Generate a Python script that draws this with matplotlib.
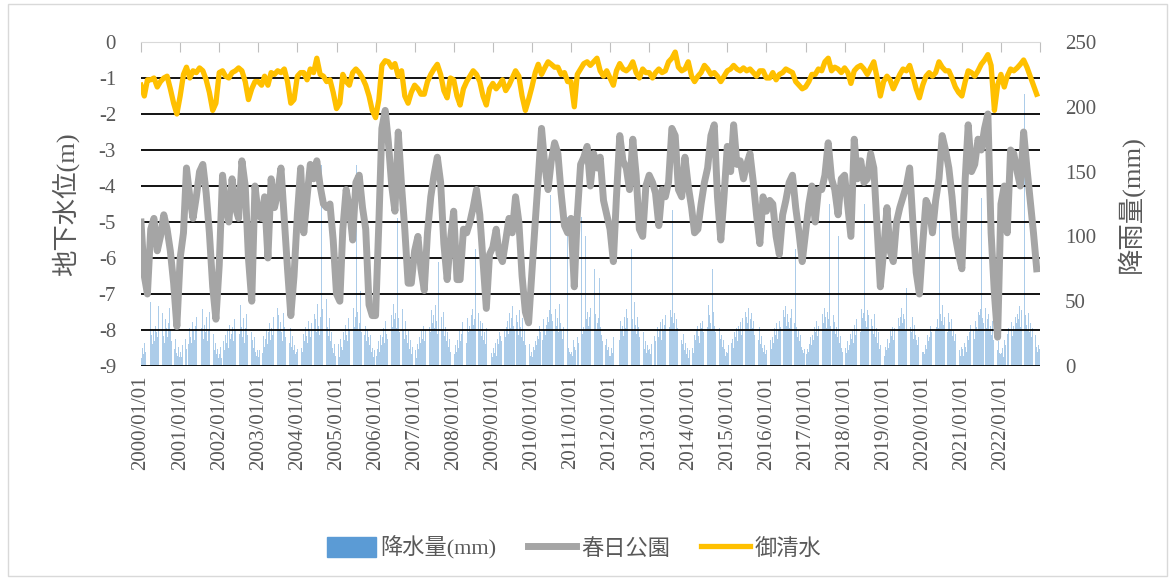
import numpy as np
import pandas as pd
import matplotlib
matplotlib.use("Agg")
import matplotlib.pyplot as plt
from matplotlib.patches import Rectangle, Patch

plt.rcParams['font.family'] = ['Liberation Serif', 'Noto Sans CJK JP']
plt.rcParams['axes.unicode_minus'] = False

# 月初の地下水位 (m) 2000/01 - 2022/12
kasuga = [
    -5.0, -6.5, -7.0, -5.2, -4.9, -5.8, -5.4, -4.8, -5.2, -5.8, -6.7, -7.9,
    -6.0, -5.3, -3.5, -4.3, -4.9, -4.3, -3.6, -3.4, -4.2, -5.3, -6.8, -7.7,
    -6.2, -3.7, -4.5, -5.0, -3.8, -4.6, -4.9, -3.3, -4.0, -6.0, -7.2, -4.0,
    -4.8, -4.9, -4.3, -6.0, -3.8, -4.6, -4.2, -3.5, -4.9, -6.3, -7.6, -6.5,
    -4.8, -3.5, -5.3, -4.3, -3.4, -3.8, -3.3, -4.0, -4.5, -4.6, -4.5, -5.5,
    -7.0, -7.2, -5.2, -4.1, -4.6, -5.5, -3.9, -3.7, -4.6, -5.2, -7.3, -7.6,
    -7.6, -5.0, -2.4, -1.9, -2.8, -4.0, -4.7, -2.5, -4.0, -5.2, -6.7, -6.7,
    -5.8, -5.4, -6.3, -6.9, -5.3, -4.3, -3.7, -3.2, -3.9, -5.6, -6.6, -5.5,
    -4.7, -6.6, -6.6, -5.2, -5.3, -5.0, -4.6, -4.1, -4.8, -6.1, -7.4, -5.9,
    -5.7, -5.2, -5.9, -6.1, -5.5, -4.9, -5.3, -4.3, -5.0, -6.5, -7.5, -7.8,
    -6.4, -5.0, -3.8, -2.4, -3.4, -4.1, -3.3, -2.8, -3.1, -4.2, -5.1, -5.3,
    -4.9, -6.8, -4.8, -3.4, -3.2, -2.9, -4.0, -3.1, -3.5, -3.2, -4.4, -4.8,
    -5.2, -6.1, -4.3, -2.6, -3.3, -3.5, -4.1, -2.7, -3.7, -5.2, -5.4, -4.0,
    -3.7, -3.9, -4.2, -5.1, -4.1, -4.3, -3.9, -2.4, -2.6, -4.1, -4.3, -3.2,
    -4.0, -4.6, -5.3, -5.2, -4.5, -3.9, -3.5, -2.6, -2.3, -4.3, -5.5, -4.3,
    -2.9, -3.6, -2.3, -3.4, -3.3, -3.8, -3.4, -3.1, -3.9, -4.8, -5.6, -4.3,
    -4.7, -4.4, -4.5, -5.4, -5.9, -4.8, -4.4, -3.9, -3.7, -4.6, -5.3, -6.1,
    -5.3, -4.5, -4.0, -5.0, -4.1, -4.1, -3.7, -2.8, -3.8, -4.1, -4.8, -3.8,
    -3.7, -4.6, -5.4, -2.7, -3.8, -3.3, -3.9, -3.8, -3.1, -3.5, -5.2, -6.8,
    -5.8, -4.6, -5.8, -6.1, -5.0, -4.6, -4.3, -4.0, -3.5, -5.0, -6.4, -7.0,
    -5.6, -4.4, -4.6, -5.3, -4.4, -3.8, -2.6, -3.0, -3.5, -4.3, -5.4, -5.9,
    -6.3, -3.8, -2.3, -3.6, -3.4, -2.7, -3.0, -2.4, -2.0, -5.3, -7.0, -8.2,
    -4.5, -4.0, -5.3, -3.0, -3.1, -3.6, -4.0, -2.5, -3.5, -4.4, -5.3, -6.3,
]

oshimizu = [
    -1.2, -1.5, -1.05, -1.05, -1.0, -1.25, -1.1, -1.0, -0.95, -1.3, -1.7, -2.0,
    -1.5, -0.9, -0.7, -1.0, -0.8, -0.85, -0.72, -0.8, -1.05, -1.4, -1.9, -1.7,
    -0.85, -0.8, -0.95, -1.0, -0.85, -0.8, -0.72, -0.8, -1.1, -1.6, -1.3, -1.1,
    -1.1, -1.2, -0.95, -1.2, -0.85, -0.9, -0.8, -0.85, -0.75, -1.1, -1.7, -1.6,
    -0.95, -0.85, -0.85, -1.05, -0.75, -0.85, -0.45, -0.9, -0.95, -1.1, -1.05, -1.4,
    -1.85, -1.7, -0.9, -1.1, -1.2, -0.85, -0.75, -0.85, -1.0, -1.2, -1.5, -1.9,
    -2.1, -1.6, -0.65, -0.52, -0.55, -0.7, -0.6, -0.95, -0.8, -1.5, -1.7, -1.4,
    -1.2, -1.3, -1.45, -1.45, -1.1, -0.9, -0.75, -0.62, -0.9, -1.35, -1.55, -1.0,
    -1.05, -1.5, -1.75, -1.3, -1.1, -0.95, -0.8, -0.9, -1.1, -1.5, -1.75, -1.3,
    -1.15, -1.3, -1.2, -1.05, -1.35, -1.2, -1.0, -0.8, -0.95, -1.5, -1.9, -1.6,
    -1.25, -0.85, -0.62, -0.9, -0.72, -0.55, -0.62, -0.7, -0.7, -0.9, -0.85, -1.1,
    -1.1, -1.8, -0.9, -0.75, -0.6, -0.55, -0.65, -0.55, -0.45, -0.8, -0.95, -0.8,
    -1.0, -1.2, -0.8, -0.6, -0.75, -0.8, -0.72, -0.55, -0.85, -1.0, -0.75, -0.85,
    -0.85, -1.0, -0.85, -0.75, -0.85, -0.8, -0.55, -0.45, -0.28, -0.7, -0.8, -0.75,
    -0.55, -0.95, -1.1, -0.95, -0.85, -0.65, -0.75, -0.9, -0.85, -0.95, -1.1, -0.95,
    -0.8, -0.75, -0.65, -0.75, -0.8, -0.72, -0.8, -0.75, -0.85, -0.95, -0.8, -0.8,
    -1.0, -1.0, -0.85, -1.05, -0.9, -0.85, -0.75, -0.8, -0.85, -1.1, -1.2, -1.3,
    -1.25, -1.1, -0.9, -0.9, -0.75, -0.8, -0.55, -0.45, -0.8, -0.7, -0.75, -0.85,
    -0.72, -0.85, -1.15, -0.8, -0.7, -0.65, -0.75, -0.9, -0.72, -0.55, -1.0, -1.5,
    -1.1, -0.95, -1.05, -1.3, -1.1, -0.9, -0.75, -0.8, -0.65, -0.95, -1.3, -1.55,
    -1.2, -0.95, -0.85, -0.95, -0.85, -0.55, -0.7, -0.8, -0.8, -1.0, -1.25, -1.4,
    -1.5, -1.1, -0.8, -0.85, -0.95, -0.8, -0.62, -0.5, -0.35, -0.65, -1.9, -1.2,
    -0.9, -1.25, -0.95, -0.75, -0.8, -0.72, -0.62, -0.5, -0.7, -0.95, -1.2, -1.45,
]

# 旬ごとの降水量 (mm)、1行 = 1年 (36旬)
rain = [
    6, 14, 9, 18, 11, 22, 15, 20, 49, 24, 17, 28, 19, 31, 26, 22, 46, 34, 27, 41, 23, 18, 36, 29, 22, 33, 45, 28, 19, 24, 13, 21, 10, 8, 15, 7,
    11, 7, 16, 9, 21, 13, 25, 17, 29, 22, 18, 34, 27, 20, 31, 38, 24, 80, 35, 29, 44, 21, 32, 26, 38, 19, 27, 42, 23, 16, 25, 12, 18, 9, 13, 6,
    9, 15, 6, 19, 12, 24, 18, 27, 14, 32, 21, 25, 30, 19, 36, 28, 41, 33, 25, 47, 30, 22, 37, 18, 29, 40, 24, 31, 17, 26, 20, 14, 22, 11, 8, 12,
    7, 12, 18, 10, 23, 15, 21, 28, 17, 26, 33, 20, 29, 24, 38, 31, 27, 45, 39, 28, 34, 26, 19, 41, 30, 22, 36, 25, 18, 29, 15, 23, 12, 16, 9, 11,
    13, 8, 20, 14, 11, 25, 19, 30, 23, 18, 35, 27, 22, 33, 29, 40, 36, 26, 48, 31, 24, 38, 155, 44, 28, 35, 52, 30, 23, 37, 19, 26, 14, 10, 17, 8,
    10, 17, 7, 21, 15, 12, 26, 20, 32, 24, 19, 37, 28, 23, 34, 45, 30, 38, 155, 42, 27, 33, 58, 26, 39, 24, 31, 19, 28, 22, 16, 24, 11, 14, 7, 12,
    8, 13, 19, 11, 24, 16, 22, 29, 18, 35, 25, 21, 32, 27, 39, 30, 48, 36, 41, 29, 114, 37, 26, 33, 44, 28, 21, 35, 24, 18, 27, 13, 20, 9, 15, 10,
    12, 6, 17, 13, 22, 18, 27, 21, 31, 19, 28, 36, 24, 30, 26, 43, 33, 39, 29, 47, 35, 25, 80, 31, 38, 27, 42, 23, 30, 19, 26, 15, 21, 11, 8, 14,
    9, 16, 11, 20, 14, 27, 19, 25, 34, 22, 29, 18, 37, 26, 31, 28, 39, 44, 32, 36, 90, 30, 41, 27, 35, 23, 33, 20, 26, 17, 29, 14, 18, 12, 10, 7,
    14, 10, 18, 8, 21, 17, 26, 23, 19, 33, 27, 22, 30, 35, 25, 41, 29, 37, 46, 31, 28, 39, 34, 24, 43, 30, 22, 37, 19, 27, 16, 24, 13, 17, 8, 11,
    7, 15, 12, 19, 16, 23, 21, 31, 26, 20, 36, 28, 24, 32, 38, 34, 43, 132, 40, 35, 29, 44, 31, 37, 26, 48, 33, 28, 21, 30, 25, 18, 115, 14, 11, 9,
    11, 8, 20, 15, 12, 26, 22, 18, 33, 115, 25, 30, 27, 100, 36, 42, 31, 38, 45, 29, 34, 75, 40, 28, 33, 37, 68, 30, 24, 19, 27, 16, 21, 12, 15, 8,
    8, 14, 10, 22, 17, 13, 28, 24, 20, 35, 27, 31, 23, 38, 29, 44, 37, 33, 41, 90, 36, 27, 49, 32, 25, 38, 30, 22, 34, 18, 26, 13, 19, 10, 16, 12,
    13, 9, 17, 12, 23, 19, 25, 30, 22, 28, 34, 20, 36, 27, 32, 39, 46, 35, 30, 43, 38, 120, 33, 41, 27, 36, 29, 24, 31, 20, 17, 25, 12, 18, 9, 14,
    6, 12, 19, 14, 10, 24, 20, 27, 31, 23, 18, 33, 29, 35, 26, 41, 36, 30, 47, 39, 33, 28, 75, 42, 31, 26, 37, 23, 29, 21, 24, 15, 20, 13, 8, 11,
    10, 16, 8, 18, 21, 14, 26, 22, 29, 19, 31, 27, 34, 24, 37, 30, 42, 38, 33, 45, 28, 36, 41, 29, 35, 24, 39, 26, 20, 30, 17, 23, 14, 11, 16, 9,
    12, 7, 15, 20, 13, 22, 18, 29, 24, 33, 21, 28, 35, 30, 25, 43, 38, 46, 31, 40, 34, 29, 37, 44, 26, 33, 90, 30, 22, 27, 19, 24, 15, 12, 10, 13,
    9, 13, 11, 17, 22, 16, 24, 20, 30, 26, 35, 23, 31, 28, 37, 40, 33, 45, 38, 29, 42, 36, 125, 31, 27, 39, 34, 25, 30, 22, 100, 18, 23, 14, 11, 8,
    14, 10, 19, 12, 16, 25, 21, 27, 18, 32, 24, 36, 28, 33, 26, 44, 37, 41, 125, 35, 30, 43, 39, 28, 36, 31, 25, 40, 22, 29, 18, 26, 13, 16, 9, 12,
    8, 15, 12, 21, 14, 18, 27, 23, 30, 20, 29, 34, 25, 37, 31, 38, 45, 33, 40, 36, 28, 60, 35, 42, 30, 26, 38, 21, 32, 24, 20, 16, 22, 10, 13, 11,
    11, 9, 16, 13, 24, 19, 22, 31, 26, 18, 33, 27, 30, 36, 29, 110, 40, 35, 47, 32, 38, 30, 26, 41, 34, 28, 36, 23, 27, 19, 25, 14, 18, 12, 8, 15,
    13, 8, 18, 15, 11, 23, 20, 26, 32, 24, 28, 21, 35, 30, 27, 42, 39, 44, 130, 37, 33, 45, 29, 36, 40, 27, 31, 24, 35, 20, 22, 17, 12, 19, 10, 9,
    10, 14, 7, 20, 16, 12, 25, 29, 21, 34, 23, 31, 27, 38, 33, 40, 36, 46, 30, 43, 35, 210, 39, 32, 28, 41, 26, 33, 22, 29, 18, 24, 15, 11, 16, 13,
]

months = pd.date_range('2000-01-01', periods=len(kasuga), freq='MS')
dekads = pd.DatetimeIndex([m + pd.Timedelta(days=d) for m in months for d in (5, 15, 25)])
years = pd.date_range('2000-01-01', '2023-01-01', freq='YS')

TXT = '#595959'
BLUE = '#5B9BD5'
W, H = 1173, 580
fig = plt.figure(figsize=(W / 100, H / 100), dpi=100)
ax = fig.add_axes([141 / W, 1 - 366 / H, (1040 - 141) / W, (366 - 42) / H])
ax2 = ax.twinx()

# 降水量 (右軸)
ax2.bar(dekads, rain, width=8, color=BLUE, alpha=0.5, linewidth=0)
ax2.set_ylim(0, 250)
ax2.set_yticks(range(0, 251, 50))
ax2.tick_params(axis='y', length=0, pad=18, labelsize=15, labelcolor=TXT)
ax2.set_ylabel('降雨量(mm)', fontsize=19, color=TXT, labelpad=14)

# 地下水位 (左軸)
ax.plot(months, kasuga, color='#A5A5A5', lw=5, solid_joinstyle='round', label='春日公園')
ax.plot(months, oshimizu, color='#FFC000', lw=3.8, solid_joinstyle='round', label='御清水')
ax.set_zorder(ax2.get_zorder() + 1)
ax.patch.set_visible(False)

ax.set_ylim(-9, 0)
ax.set_yticks(range(-9, 1))
ax.set_yticklabels([str(v) for v in range(-9, 1)])
ax.tick_params(axis='y', length=0, pad=18, labelsize=15, labelcolor=TXT)
ax.set_ylabel('地下水位(m)', fontsize=19, color=TXT, labelpad=14)
ax.grid(axis='y', color='black', lw=1.3)
ax.set_xlim(years[0], years[-1])
ax.set_xticks(years)
ax.set_xticklabels([d.strftime('%Y/%m/%d') for d in years[:-1]] + [''], rotation=90)
ax.tick_params(axis='x', bottom=False, top=True, labelbottom=True, labeltop=False,
               direction='in', length=7, color='#BFBFBF', pad=7, labelsize=15, labelcolor=TXT)

for a in (ax, ax2):
    for side in ('left', 'right', 'bottom'):
        a.spines[side].set_visible(False)
ax.spines['top'].set_color('#D9D9D9')
ax2.spines['top'].set_visible(False)

handles = [Patch(color=BLUE)] + ax.get_legend_handles_labels()[0]
labels = ['降水量(mm)', '春日公園', '御清水']
fig.legend(handles, labels, loc='center', bbox_to_anchor=(574 / W, 1 - 548 / H), ncol=3,
           frameon=False, fontsize=16, labelcolor=TXT, handlelength=2.2, handleheight=1.0,
           handletextpad=0.2, columnspacing=1.4)

fig.patches.append(Rectangle((8 / W, 4 / H), 1 - 14 / W, 1 - 8 / H, transform=fig.transFigure,
                             fill=False, edgecolor='#D9D9D9', lw=1))

fig.savefig('out.png', dpi=100)
